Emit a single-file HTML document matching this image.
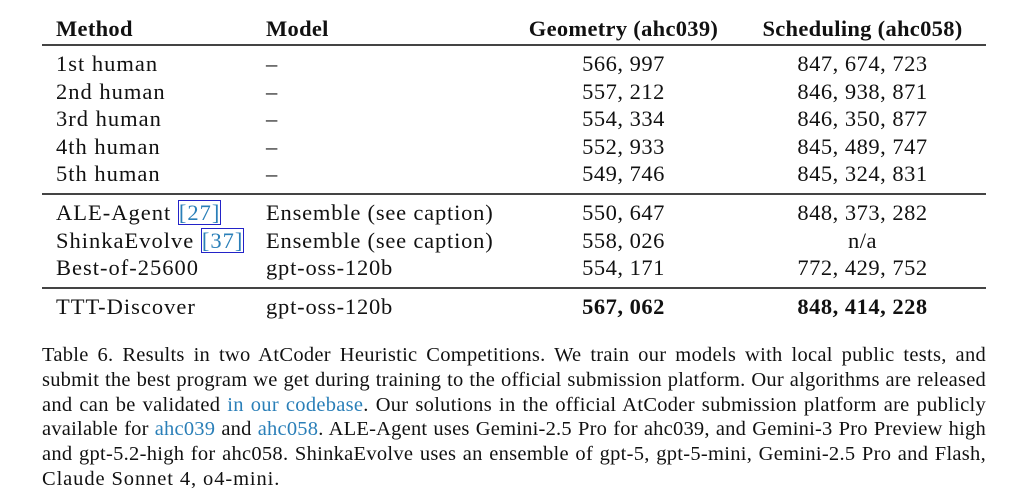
<!DOCTYPE html>
<html><head><meta charset="utf-8"><style>
body{margin:0;background:#fff;width:1028px;height:502px;position:relative;overflow:hidden;font-family:"Liberation Serif",serif;color:#111}
.r{position:absolute;left:0;width:1028px;height:28px;font-size:22.5px;line-height:28px;letter-spacing:0.5px}
.r span{position:absolute;white-space:nowrap}
.c1{left:56px;letter-spacing:1px}.c2{left:266px;letter-spacing:0.8px}
.c3{left:517px;width:213px;text-align:center}
.c4{left:750px;width:225px;text-align:center}
.b{font-weight:bold}
.b .c1,.b .c2{letter-spacing:0.3px}
.rule{position:absolute;left:42px;width:944px;height:1.5px;background:#444}
.ref{color:#2a7fb8;outline:1px solid #2323c8;outline-offset:-1px;padding:0 1px}
.cap{position:absolute;left:42px;width:944px;font-size:20.5px;letter-spacing:0.28px;line-height:25px;white-space:nowrap;text-align:justify;text-align-last:justify}
.cap.t{letter-spacing:0.22px}
.cap.l{text-align-last:left;letter-spacing:0.9px}
a{color:#2a7fb8;text-decoration:none}
</style></head><body>
<div class="r b" style="top:15px;letter-spacing:0.3px"><span class="c1">Method</span><span class="c2">Model</span><span class="c3">Geometry (ahc039)</span><span class="c4">Scheduling (ahc058)</span></div>
<div class="rule" style="top:44px"></div>
<div class="r" style="top:50px"><span class="c1">1st human</span><span class="c2">–</span><span class="c3">566, 997</span><span class="c4">847, 674, 723</span></div>
<div class="r" style="top:77.5px"><span class="c1">2nd human</span><span class="c2">–</span><span class="c3">557, 212</span><span class="c4">846, 938, 871</span></div>
<div class="r" style="top:105px"><span class="c1">3rd human</span><span class="c2">–</span><span class="c3">554, 334</span><span class="c4">846, 350, 877</span></div>
<div class="r" style="top:132.5px"><span class="c1">4th human</span><span class="c2">–</span><span class="c3">552, 933</span><span class="c4">845, 489, 747</span></div>
<div class="r" style="top:160px"><span class="c1">5th human</span><span class="c2">–</span><span class="c3">549, 746</span><span class="c4">845, 324, 831</span></div>
<div class="rule" style="top:193px"></div>
<div class="r" style="top:199px"><span class="c1">ALE-Agent <span class="ref" style="position:static">[27]</span></span><span class="c2">Ensemble (see caption)</span><span class="c3">550, 647</span><span class="c4">848, 373, 282</span></div>
<div class="r" style="top:227px"><span class="c1">ShinkaEvolve <span class="ref" style="position:static">[37]</span></span><span class="c2">Ensemble (see caption)</span><span class="c3">558, 026</span><span class="c4">n/a</span></div>
<div class="r" style="top:254px"><span class="c1">Best-of-25600</span><span class="c2">gpt-oss-120b</span><span class="c3">554, 171</span><span class="c4">772, 429, 752</span></div>
<div class="rule" style="top:287px"></div>
<div class="r" style="top:293px"><span class="c1">TTT-Discover</span><span class="c2">gpt-oss-120b</span><span class="c3 b">567, 062</span><span class="c4 b">848, 414, 228</span></div>
<div class="cap" style="top:343px">Table 6. Results in two AtCoder Heuristic Competitions. We train our models with local public tests, and</div>
<div class="cap t" style="top:368px">submit the best program we get during training to the official submission platform. Our algorithms are released</div>
<div class="cap" style="top:393px">and can be validated <a>in our codebase</a>. Our solutions in the official AtCoder submission platform are publicly</div>
<div class="cap t" style="top:417px">available for <a>ahc039</a> and <a>ahc058</a>. ALE-Agent uses Gemini-2.5 Pro for ahc039, and Gemini-3 Pro Preview high</div>
<div class="cap" style="top:442px">and gpt-5.2-high for ahc058. ShinkaEvolve uses an ensemble of gpt-5, gpt-5-mini, Gemini-2.5 Pro and Flash,</div>
<div class="cap l" style="top:467px">Claude Sonnet 4, o4-mini.</div>
</body></html>
